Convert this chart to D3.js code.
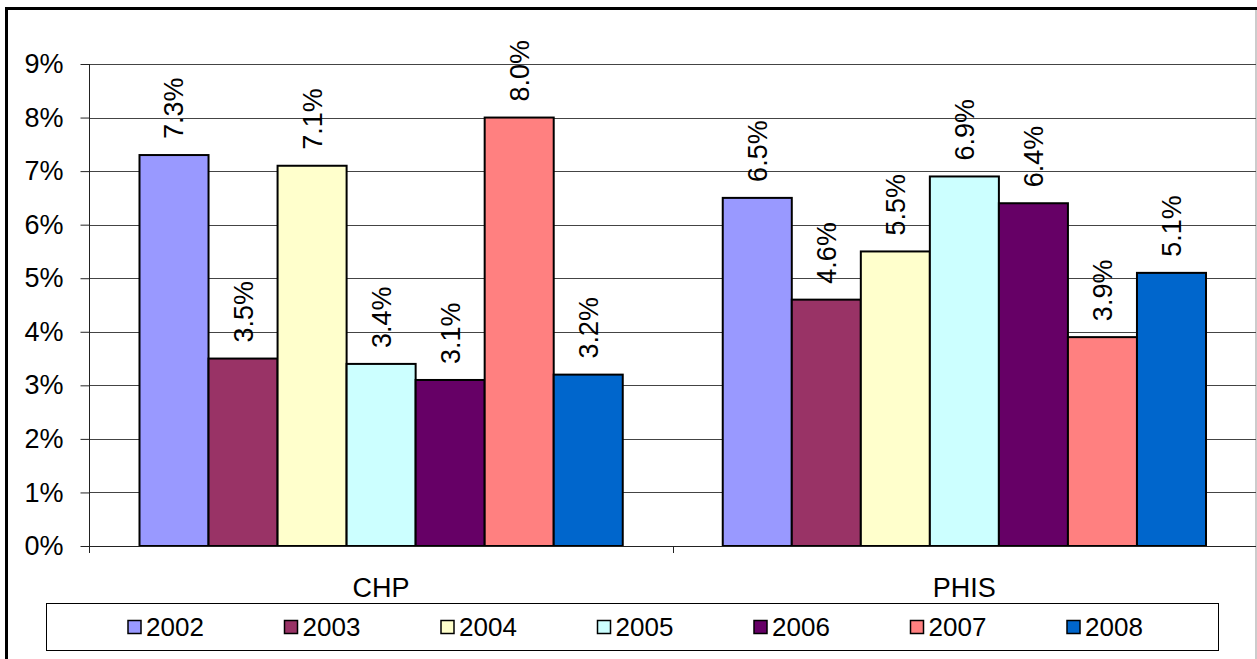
<!DOCTYPE html>
<html>
<head>
<meta charset="utf-8">
<script src="https://cdn.jsdelivr.net/npm/d3@7"></script>
<style>
  html, body { margin: 0; padding: 0; background: #fff; }
  svg { display: block; font-family: "Liberation Sans", Arial, sans-serif; }
</style>
</head>
<body>
<svg id="chart" width="1257" height="659"></svg>
<script>
// Annual rates by programme and year
const categories = ["CHP", "PHIS"];
const years = ["2002", "2003", "2004", "2005", "2006", "2007", "2008"];
const chpValues = [7.3, 3.5, 7.1, 3.4, 3.1, 8.0, 3.2];
const phisValues = [6.5, 4.6, 5.5, 6.9, 6.4, 3.9, 5.1];
const yearColors = ["#9999FF", "#993366", "#FFFFCC", "#CCFFFF", "#660066", "#FF8080", "#0066CC"];
const yTicks = [0, 1, 2, 3, 4, 5, 6, 7, 8, 9];

const seriesByCategory = { CHP: chpValues, PHIS: phisValues };

const svg = d3.select("#chart");
const W = 1257, H = 659;
const FONT = 27;

// outer frame
svg.append("line").attr("x1", 6.5).attr("x2", 6.5).attr("y1", 7).attr("y2", H)
  .attr("stroke", "#000").attr("stroke-width", 3);
svg.append("line").attr("x1", 5).attr("x2", W).attr("y1", 8.5).attr("y2", 8.5)
  .attr("stroke", "#000").attr("stroke-width", 3);
svg.append("line").attr("x1", 1256).attr("x2", 1256).attr("y1", 10).attr("y2", H)
  .attr("stroke", "#999").attr("stroke-width", 1);

const plot = { left: 89.5, right: 1256, top: 64, bottom: 546 };

const y = d3.scaleLinear().domain([0, 9]).range([plot.bottom, plot.top]);
const x0 = d3.scaleBand().domain(categories).range([plot.left, plot.right]).paddingInner(0).paddingOuter(0);
const innerPad = 50;
const x1 = d3.scaleBand().domain(years)
  .range([innerPad, x0.bandwidth() - innerPad]).padding(0);

// gridlines
svg.append("g").selectAll("line").data(yTicks.filter(d => d > 0)).join("line")
  .attr("x1", plot.left).attr("x2", plot.right)
  .attr("y1", d => Math.round(y(d)) + 0.5).attr("y2", d => Math.round(y(d)) + 0.5)
  .attr("stroke", "#444").attr("stroke-width", 1);

// y axis
const yAxis = d3.axisLeft(y).tickValues(yTicks).tickFormat(d => d + "%").tickSize(9).tickPadding(17);
const gy = svg.append("g").attr("transform", `translate(${plot.left},0)`).call(yAxis);
gy.select(".domain").attr("d", `M0,${plot.top}V${plot.bottom + 7}`).attr("stroke", "#222");
gy.selectAll(".tick line").attr("stroke", "#222");
gy.selectAll(".tick text").attr("font-size", FONT).attr("fill", "#000")
  .attr("font-family", "Liberation Sans, Arial, sans-serif");

// bars
const groups = svg.append("g").selectAll("g").data(categories).join("g")
  .attr("transform", d => `translate(${x0(d)},0)`);

groups.selectAll("rect").data(c => seriesByCategory[c].map((v, i) => ({ year: years[i], value: v, i })))
  .join("rect")
  .attr("x", d => x1(d.year))
  .attr("y", d => y(d.value))
  .attr("width", x1.bandwidth())
  .attr("height", d => y(0) - y(d.value))
  .attr("fill", d => yearColors[d.i])
  .attr("stroke", "#000").attr("stroke-width", 2);

// value labels, rotated
groups.selectAll("text.val").data(c => seriesByCategory[c].map((v, i) => ({ year: years[i], value: v })))
  .join("text").attr("class", "val")
  .attr("transform", d => `translate(${x1(d.year) + x1.bandwidth() / 2},${y(d.value) - 16}) rotate(-90)`)
  .attr("dy", "0.35em")
  .attr("font-size", FONT).attr("fill", "#000")
  .text(d => d.value.toFixed(1) + "%");

// x axis
svg.append("line").attr("x1", plot.left).attr("x2", plot.right)
  .attr("y1", plot.bottom + 0.5).attr("y2", plot.bottom + 0.5).attr("stroke", "#222");
svg.append("g").selectAll("line").data(categories.slice(1)).join("line")
  .attr("x1", d => Math.round(x0(d)) + 0.5).attr("x2", d => Math.round(x0(d)) + 0.5)
  .attr("y1", plot.bottom).attr("y2", plot.bottom + 7).attr("stroke", "#222");
svg.append("g").selectAll("text").data(categories).join("text")
  .attr("x", d => x0(d) + x0.bandwidth() / 2)
  .attr("y", 597)
  .attr("text-anchor", "middle")
  .attr("font-size", FONT).attr("fill", "#000")
  .text(d => d);

// legend
const legend = svg.append("g");
legend.append("rect").attr("x", 46.5).attr("y", 603.5).attr("width", 1172).attr("height", 47)
  .attr("fill", "#fff").attr("stroke", "#000").attr("stroke-width", 1);
const legendX = d3.scalePoint().domain(years).range([128, 1067]);
const items = legend.selectAll("g").data(years).join("g")
  .attr("transform", d => `translate(${legendX(d)},627)`);
items.append("rect").attr("x", 0).attr("y", -6.5).attr("width", 13).attr("height", 13)
  .attr("fill", (d, i) => yearColors[i]).attr("stroke", "#000").attr("stroke-width", 1.5);
items.append("text").attr("x", 18).attr("dy", "0.35em")
  .attr("font-size", 26).attr("fill", "#000").text(d => d);
</script>
</body>
</html>
